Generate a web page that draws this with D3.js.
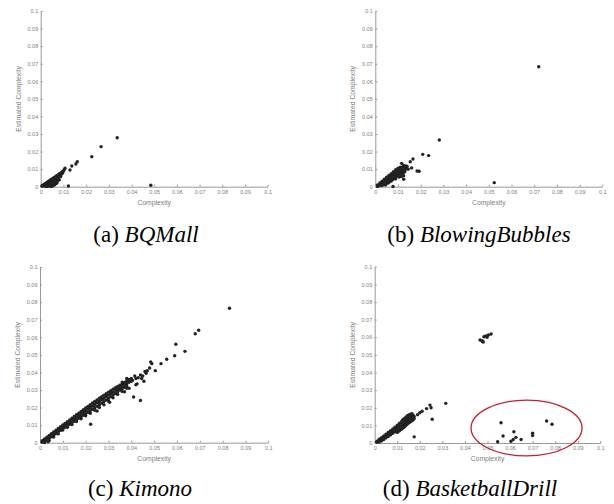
<!DOCTYPE html>
<html>
<head>
<meta charset="utf-8">
<script src="https://cdn.jsdelivr.net/npm/d3@7"></script>
<style>
  body { margin: 0; background: #fff; }
  svg { display: block; }
</style>
</head>
<body>
<script>
// tick values and labels shared by both axes of every panel
var ticks = [0, 0.01, 0.02, 0.03, 0.04, 0.05, 0.06, 0.07, 0.08, 0.09, 0.1];
var tickLabels = ["0", "0.01", "0.02", "0.03", "0.04", "0.05", "0.06", "0.07", "0.08", "0.09", "0.1"];

var captionLetters = ["(a) ", "(b) ", "(c) ", "(d) "];
var captionNames = ["BQMall", "BlowingBubbles", "Kimono", "BasketballDrill"];

// [complexity, estimated complexity]
var bqmall = [
  [0.0005,0.0004],[0.001,0.0009],[0.001,0.0004],[0.0015,0.0013],[0.0015,0.0007],
  [0.002,0.0018],[0.002,0.0011],[0.002,0.0003],[0.0025,0.0022],[0.0025,0.0015],[0.0025,0.0007],
  [0.003,0.0027],[0.003,0.0019],[0.003,0.001],[0.0035,0.0031],[0.0035,0.0023],[0.0035,0.0014],[0.0035,0.0004],
  [0.004,0.0036],[0.004,0.0027],[0.004,0.0018],[0.004,0.0008],[0.0045,0.004],[0.0045,0.0031],[0.0045,0.0021],[0.0045,0.0011],
  [0.005,0.0044],[0.005,0.0035],[0.005,0.0025],[0.005,0.0014],[0.005,0.0003],
  [0.0055,0.0049],[0.0055,0.0039],[0.0055,0.0028],[0.0055,0.0017],
  [0.006,0.0053],[0.006,0.0043],[0.006,0.0032],[0.006,0.002],
  [0.0065,0.0057],[0.0065,0.0047],[0.0065,0.0035],[0.0065,0.0024],
  [0.007,0.0062],[0.007,0.0052],[0.007,0.0039],[0.007,0.0028],
  [0.0075,0.0066],[0.0075,0.0056],[0.0075,0.0042],[0.008,0.0071],[0.008,0.006],[0.0078,0.0037],
  [0.0085,0.0075],[0.0085,0.0065],[0.009,0.008],[0.009,0.007],[0.0095,0.0085],[0.01,0.0089],
  [0.0025,0.0001],[0.003,0.0003],[0.0045,0.0001],[0.0058,0.0008],[0.0062,0.0012],[0.0068,0.0018],
  [0.0072,0.0022],[0.0082,0.004],[0.0088,0.0058],[0.0092,0.0075],[0.0097,0.0078],[0.0103,0.0095],
  [0.0107,0.0105],[0.0122,0.0004],[0.0129,0.0095],[0.0137,0.0118],[0.0155,0.0129],[0.0161,0.0142],
  [0.0225,0.0171],[0.0266,0.0228],[0.0337,0.0279],[0.0485,0.0008]
];

var blowingBubbles = [
  [0.001,0.001],[0.001,0.0005],[0.001,0.0001],
  [0.002,0.0021],[0.002,0.0014],[0.002,0.0007],
  [0.003,0.0032],[0.003,0.0024],[0.003,0.0015],[0.003,0.0007],
  [0.004,0.0043],[0.004,0.0034],[0.004,0.0025],[0.004,0.0015],
  [0.005,0.0054],[0.005,0.0045],[0.005,0.0035],[0.005,0.0024],
  [0.006,0.0064],[0.006,0.0055],[0.006,0.0045],[0.006,0.0034],[0.006,0.0025],
  [0.007,0.0074],[0.007,0.0065],[0.007,0.0055],[0.007,0.0044],[0.007,0.0033],
  [0.008,0.0086],[0.008,0.0076],[0.008,0.0066],[0.008,0.0055],[0.008,0.0043],
  [0.009,0.0097],[0.009,0.0088],[0.009,0.0078],[0.009,0.0067],[0.009,0.0055],[0.009,0.0045],
  [0.01,0.0106],[0.01,0.0097],[0.01,0.0087],[0.01,0.0077],[0.01,0.0066],
  [0.011,0.0111],[0.011,0.0102],[0.011,0.0093],[0.011,0.0083],[0.011,0.0072],
  [0.012,0.0113],[0.012,0.0104],[0.012,0.0095],[0.012,0.0085],[0.012,0.0076],
  [0.013,0.011],[0.013,0.0101],[0.013,0.0093],
  [0.0105,0.0101],[0.0115,0.0107],[0.0125,0.0108],[0.0095,0.0092],[0.0085,0.0081],[0.0075,0.007],
  [0.0065,0.006],[0.0055,0.005],[0.0045,0.004],[0.0035,0.003],[0.0025,0.002],[0.0105,0.0072],
  [0.0115,0.0078],[0.0125,0.0082],[0.0135,0.0105],[0.0095,0.006],[0.0085,0.005],[0.0075,0.0039],
  [0.0065,0.003],[0.0055,0.002],[0.0045,0.001],[0.0035,0.0012],[0.0125,0.0062],[0.0115,0.0058],
  [0.0105,0.0055],[0.013,0.0085],[0.0135,0.0118],[0.0125,0.0121],
  [0.0116,0.0133],[0.0125,0.0042],[0.0078,0.0001],[0.014,0.0115],[0.0145,0.01],
  [0.0154,0.0142],[0.0166,0.0158],[0.016,0.0107],[0.0184,0.0089],[0.0193,0.0088],
  [0.0209,0.0184],[0.0235,0.0177],[0.0282,0.0266],[0.0524,0.0023],[0.072,0.0683]
];

var kimono = [
  [0.001,0.0011],[0.001,0.0007],[0.001,0.0003],[0.002,0.0021],[0.002,0.0015],[0.002,0.0008],
  [0.003,0.0031],[0.003,0.0024],[0.003,0.0015],[0.004,0.0041],[0.004,0.0033],[0.004,0.0024],
  [0.005,0.0051],[0.005,0.0043],[0.005,0.0033],[0.006,0.0061],[0.006,0.0053],[0.006,0.0042],
  [0.007,0.0071],[0.007,0.0062],[0.007,0.0052],[0.008,0.0081],[0.008,0.0071],[0.008,0.0061],
  [0.009,0.0091],[0.009,0.0081],[0.009,0.007],[0.01,0.0101],[0.01,0.009],[0.01,0.0079],
  [0.011,0.011],[0.011,0.0099],[0.011,0.0088],[0.012,0.0119],[0.012,0.0108],[0.012,0.0097],
  [0.013,0.0129],[0.013,0.0117],[0.013,0.0105],[0.014,0.0139],[0.014,0.0126],[0.014,0.0113],
  [0.015,0.0149],[0.015,0.0136],[0.015,0.0122],[0.016,0.0159],[0.016,0.0145],[0.016,0.013],
  [0.017,0.0168],[0.017,0.0154],[0.017,0.0139],[0.018,0.0178],[0.018,0.0163],[0.018,0.0147],
  [0.019,0.0188],[0.019,0.0172],[0.019,0.0156],[0.02,0.0198],[0.02,0.0182],[0.02,0.0164],
  [0.021,0.0207],[0.021,0.0191],[0.021,0.0173],[0.022,0.0216],[0.022,0.02],[0.022,0.0181],
  [0.023,0.0226],[0.023,0.0209],[0.023,0.019],[0.024,0.0235],[0.024,0.0218],[0.024,0.0198],
  [0.025,0.0244],[0.025,0.0227],[0.025,0.0207],[0.026,0.0253],[0.026,0.0236],[0.026,0.0216],
  [0.027,0.0262],[0.027,0.0245],[0.027,0.0225],[0.028,0.0271],[0.028,0.0254],[0.028,0.0234],
  [0.029,0.0279],[0.029,0.0263],[0.029,0.0243],[0.03,0.0288],[0.03,0.0272],[0.03,0.0252],
  [0.031,0.0296],[0.031,0.028],[0.031,0.0262],[0.032,0.0305],[0.032,0.0289],[0.032,0.0271],
  [0.033,0.0313],[0.033,0.0298],[0.033,0.028],[0.034,0.032],[0.034,0.0306],[0.034,0.029],
  [0.035,0.0327],[0.035,0.0313],[0.035,0.0299],[0.036,0.0335],[0.036,0.032],[0.036,0.0307],
  [0.037,0.0343],[0.037,0.0328],[0.037,0.0315],[0.038,0.0352],[0.038,0.0336],[0.038,0.0322],
  [0.039,0.036],[0.039,0.0344],[0.04,0.0366],[0.04,0.035],
  [0.01,0.0072],[0.012,0.0088],[0.014,0.0104],[0.016,0.012],[0.018,0.0136],[0.02,0.0153],
  [0.022,0.0168],[0.024,0.0184],[0.026,0.02],[0.028,0.0216],[0.03,0.0238],[0.032,0.0256],
  [0.034,0.0275],[0.036,0.0292],[0.038,0.031],
  [0.0155,0.0142],[0.0175,0.016],[0.0195,0.0176],[0.0215,0.0195],[0.0235,0.021],[0.0255,0.023],
  [0.0275,0.0248],[0.0295,0.0268],[0.0315,0.0285],[0.0335,0.0305],[0.0355,0.032],[0.0375,0.0338],
  [0.0395,0.0355],[0.0065,0.0058],[0.0085,0.0076],[0.0105,0.0094],[0.0125,0.0112],[0.0135,0.012],
  [0.0115,0.0104],
  [0.002,0.0001],[0.0035,0.0005],[0.004,0.0012],[0.006,0.0032],[0.008,0.005],
  [0.0222,0.0105],[0.025,0.018],[0.0305,0.023],[0.041,0.026],[0.044,0.024],[0.0405,0.0355],
  [0.042,0.0365],[0.043,0.037],[0.0425,0.0335],[0.044,0.0385],[0.045,0.038],[0.046,0.0405],
  [0.047,0.041],[0.0465,0.0395],[0.048,0.0425],[0.0485,0.046],[0.049,0.045],[0.0505,0.041],
  [0.0455,0.035],[0.053,0.045],[0.0555,0.0475],[0.059,0.0495],[0.0595,0.056],[0.0635,0.052],
  [0.068,0.062],[0.0695,0.064],[0.083,0.0765],[0.037,0.029],[0.039,0.031],[0.042,0.033],
  [0.0415,0.038],[0.038,0.0365],[0.036,0.0345],[0.0445,0.0365]
];

var basketballDrill = [
  [0.001,0.001],[0.001,0.0004],[0.002,0.0021],[0.002,0.0013],[0.002,0.0005],
  [0.003,0.003],[0.003,0.0022],[0.003,0.0012],[0.004,0.004],[0.004,0.0031],[0.004,0.002],
  [0.005,0.005],[0.005,0.004],[0.005,0.0029],[0.006,0.006],[0.006,0.0049],[0.006,0.0037],
  [0.007,0.007],[0.007,0.0059],[0.007,0.0046],[0.008,0.008],[0.008,0.0068],[0.008,0.0055],
  [0.009,0.009],[0.009,0.0078],[0.009,0.0064],
  [0.01,0.0101],[0.01,0.0088],[0.01,0.0073],[0.01,0.006],
  [0.011,0.0112],[0.011,0.0098],[0.011,0.0083],[0.011,0.0069],
  [0.012,0.0124],[0.012,0.011],[0.012,0.0094],[0.012,0.0079],
  [0.013,0.0136],[0.013,0.0122],[0.013,0.0106],[0.013,0.009],
  [0.014,0.0148],[0.014,0.0134],[0.014,0.0118],[0.014,0.0102],
  [0.015,0.0157],[0.015,0.0143],[0.015,0.0128],[0.015,0.0113],
  [0.016,0.0163],[0.016,0.015],[0.016,0.0136],[0.016,0.0122],
  [0.017,0.0158],[0.017,0.0145],[0.017,0.013],
  [0.0125,0.0132],[0.0135,0.0142],[0.0145,0.0155],[0.0155,0.016],[0.0165,0.0166],[0.0155,0.0135],
  [0.0145,0.0125],[0.0135,0.0114],[0.0125,0.0102],[0.0165,0.0142],[0.0175,0.015],[0.0175,0.0138],
  [0.0105,0.0095],[0.0095,0.0085],[0.0085,0.0074],[0.0075,0.0065],[0.0065,0.0055],[0.0055,0.0045],
  [0.0045,0.0035],[0.0035,0.0026],[0.0115,0.0076],[0.0105,0.0067],[0.0125,0.0085],[0.0135,0.0096],
  [0.0145,0.0108],[0.0155,0.0118],[0.0165,0.0128],
  [0.0175,0.0035],[0.019,0.016],[0.02,0.0172],[0.021,0.018],[0.023,0.0195],[0.0245,0.0215],
  [0.025,0.02],[0.0255,0.0135],[0.0315,0.0225],
  [0.0467,0.0584],[0.0476,0.058],[0.0481,0.0573],[0.0484,0.0603],[0.0493,0.0607],
  [0.0504,0.0613],[0.0516,0.0618],[0.0478,0.0576],[0.0498,0.06],
  [0.056,0.0115],[0.0569,0.004],[0.0545,0.0007],[0.0604,0.001],[0.0614,0.002],
  [0.0617,0.0064],[0.0626,0.0032],[0.0649,0.002],[0.07,0.0055],[0.07,0.0042],
  [0.0762,0.0125],[0.0786,0.0106]
];

// red annotation ellipse in panel (d), in data units
var ellipse = {cx: 0.0673, cy: 0.0085, rx: 0.0246, ry: 0.0158};

var datasets = [bqmall, blowingBubbles, kimono, basketballDrill];

// plot boxes: [left, right, top, bottom]
var boxes = [
  [40.7, 267.7, 11, 186.7],
  [375.3, 602.3, 11, 186.7],
  [40, 268.3, 267, 442.7],
  [374.7, 600.3, 266.7, 443]
];
var captionPos = [[146, 241.5], [479, 241.5], [140, 496], [470, 496]];

var svg = d3.select("body").append("svg")
    .attr("width", 614)
    .attr("height", 504);

var sans = "'Liberation Sans', Arial, sans-serif";
var serif = "'Liberation Serif', 'Times New Roman', serif";

datasets.forEach(function(data, i) {
  var b = boxes[i];
  var x = d3.scaleLinear().domain([0, 0.1]).range([b[0], b[1]]);
  var y = d3.scaleLinear().domain([0, 0.1]).range([b[3], b[2]]);

  var g = svg.append("g");

  var xAxis = d3.axisBottom(x)
      .tickValues(ticks)
      .tickFormat(function(d, j) { return tickLabels[j]; })
      .tickSizeInner(-2)
      .tickSizeOuter(0)
      .tickPadding(3);
  var yAxis = d3.axisLeft(y)
      .tickValues(ticks)
      .tickFormat(function(d, j) { return tickLabels[j]; })
      .tickSizeInner(-2)
      .tickSizeOuter(0)
      .tickPadding(2.5);

  var gx = g.append("g").attr("transform", "translate(0," + b[3] + ")").call(xAxis);
  var gy = g.append("g").attr("transform", "translate(" + b[0] + ",0)").call(yAxis);

  [gx, gy].forEach(function(ax) {
    ax.select(".domain").attr("stroke", "#999").attr("stroke-width", 1);
    ax.selectAll(".tick line").attr("stroke", "#999");
    ax.selectAll(".tick text")
      .attr("fill", "#808080")
      .attr("font-family", sans)
      .attr("font-size", "5.5px");
  });

  g.append("text")
      .attr("x", (b[0] + b[1]) / 2)
      .attr("y", b[3] + 16)
      .attr("dy", "0.35em")
      .attr("text-anchor", "middle")
      .attr("font-family", sans)
      .attr("font-size", "6.8px")
      .attr("fill", "#808080")
      .text("Complexity");

  g.append("text")
      .attr("transform", "translate(" + (b[0] - 22.5) + "," + ((b[2] + b[3]) / 2) + ") rotate(-90)")
      .attr("dy", "0.35em")
      .attr("text-anchor", "middle")
      .attr("font-family", sans)
      .attr("font-size", "6.8px")
      .attr("fill", "#808080")
      .text("Estimated Complexity");

  g.selectAll("circle.pt")
    .data(data)
    .enter().append("circle")
      .attr("class", "pt")
      .attr("cx", function(d) { return x(d[0]); })
      .attr("cy", function(d) { return y(d[1]); })
      .attr("r", 1.7)
      .attr("fill", "#222");

  if (i === 3) {
    g.append("ellipse")
        .attr("cx", x(ellipse.cx))
        .attr("cy", y(ellipse.cy))
        .attr("rx", x(ellipse.rx) - x(0))
        .attr("ry", y(0) - y(ellipse.ry))
        .attr("fill", "none")
        .attr("stroke", "#c0232b")
        .attr("stroke-width", 1.3);
  }

  var cap = svg.append("text")
      .attr("x", captionPos[i][0])
      .attr("y", captionPos[i][1])
      .attr("text-anchor", "middle")
      .attr("font-family", serif)
      .attr("font-size", "23px")
      .attr("fill", "#000");
  cap.append("tspan").text(captionLetters[i]);
  cap.append("tspan").attr("font-style", "italic").text(captionNames[i]);
});
</script>
</body>
</html>
